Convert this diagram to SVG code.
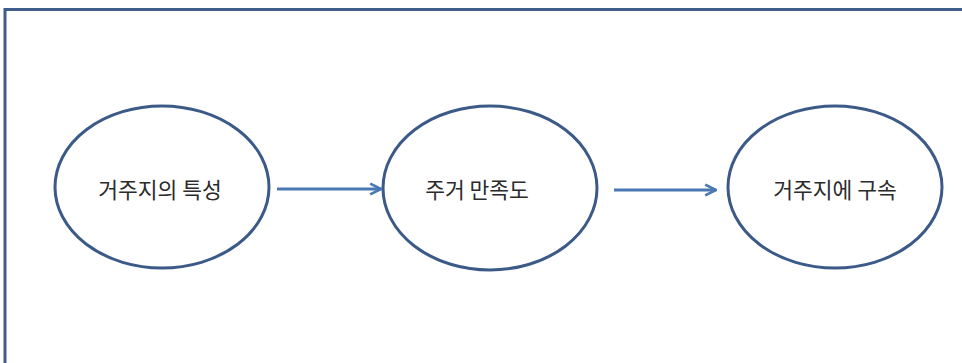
<svg xmlns="http://www.w3.org/2000/svg" width="962" height="363" viewBox="0 0 962 363">
<style>
.node ellipse{fill:#fff;stroke:#3b5a88;stroke-width:3}
.node text{font-family:"Noto Sans CJK KR","Noto Sans",sans-serif;font-size:21.5px;fill:#2b2b2b;text-anchor:middle}
.conn line{stroke:#4a78b2;stroke-width:3}
</style>
<defs>
<marker id="arr" viewBox="0 0 10 10" refX="9" refY="5" markerWidth="4.5" markerHeight="4.5" orient="auto" markerUnits="strokeWidth">
<path d="M1,1 L9,5 L1,9" fill="none" stroke="#4a78b2" stroke-width="2"/>
</marker>
</defs>
<rect x="0" y="0" width="962" height="363" fill="#fff"/>
<rect x="5" y="9.5" width="980" height="380" fill="none" stroke="#3f5d8c" stroke-width="3"/>
<g id="n1" class="node">
<ellipse cx="162" cy="187" rx="107" ry="81"/>
<text x="160" y="198">거주지의 특성</text>
</g>
<g id="n2" class="node">
<ellipse cx="490" cy="188" rx="107" ry="82"/>
<text x="477" y="198">주거 만족도</text>
</g>
<g id="n3" class="node">
<ellipse cx="835" cy="187" rx="107" ry="81"/>
<text x="835" y="198">거주지에 구속</text>
</g>
<g id="connectors" class="conn">
<line x1="277" y1="189" x2="381" y2="189" marker-end="url(#arr)"/>
<line x1="614" y1="190" x2="716" y2="190" marker-end="url(#arr)"/>
</g>
</svg>
